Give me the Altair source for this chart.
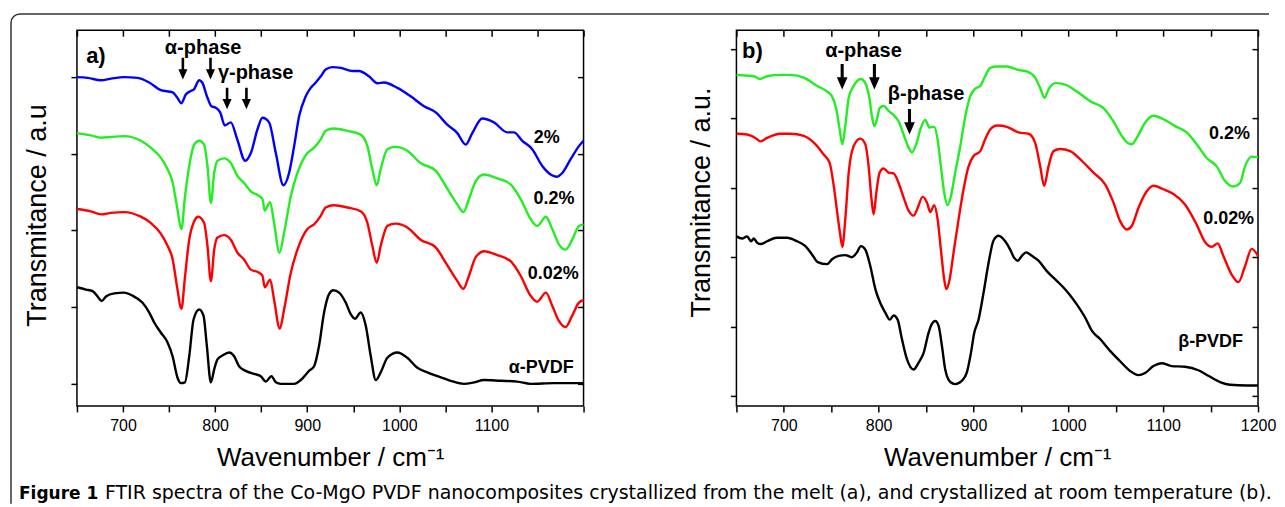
import altair as alt
import pandas as pd

# ---------------- data ----------------
# panel (a): crystallized from the melt  (wavenumber cm-1, transmittance a.u.)
a_2pct = [(650,4.00),(661.6,3.99),(676,3.96),(687,3.98),(701,4.00),(716,3.99),(728.5,3.93),(741,3.83),(754,3.80),(759,3.73),(763.5,3.66),(768,3.77),(773.7,3.82),(777,3.84),(782.7,3.96),(786,3.93),(791.7,3.73),(796,3.62),(800.8,3.60),(805.5,3.54),(810.5,3.37),(817,3.41),(824,3.19),(832.6,2.91),(838.8,3.01),(846,3.32),(851.4,3.47),(858.6,3.41),(865.9,3.01),(874.2,2.59),(880.3,2.75),(885.8,3.10),(891.2,3.49),(898.4,3.75),(903.8,3.86),(909.3,3.93),(914.7,4.01),(920,4.10),(927.4,4.13),(936.4,4.12),(949,4.08),(956.3,4.08),(967,4.01),(976.2,3.92),(983.4,3.93),(997.9,3.86),(1012.3,3.75),(1026.8,3.62),(1039.5,3.54),(1052,3.38),(1063,3.27),(1072,3.12),(1079.2,3.27),(1090,3.46),(1102.7,3.41),(1117.2,3.28),(1124.4,3.28),(1133.5,3.17),(1144.3,3.06),(1155.2,2.84),(1164.2,2.73),(1170.7,2.70),(1176.9,2.75),(1186,2.93),(1195,3.10),(1200,3.17)]
a_02pct = [(650,3.27),(665,3.24),(676,3.21),(687,3.22),(701,3.23),(719.4,3.17),(732,3.06),(741,2.95),(748.4,2.80),(754,2.62),(758.5,2.32),(763.5,2.02),(767,2.41),(771.9,2.84),(777.3,3.12),(782.7,3.17),(788,3.12),(791.7,2.84),(795.4,2.36),(799,2.75),(802.6,2.91),(809.8,2.94),(817,2.88),(824.3,2.71),(831.5,2.62),(838.7,2.51),(847.8,2.45),(851.4,2.41),(853.9,2.26),(859.7,2.37),(864,2.10),(869.9,1.71),(874.9,1.97),(882.2,2.45),(889.4,2.75),(900.2,3.01),(907.5,3.08),(914.7,3.19),(920,3.30),(929,3.33),(943.6,3.30),(958,3.25),(965.3,3.10),(970.7,2.80),(975.5,2.59),(979.8,2.80),(987,3.06),(996,3.09),(1008.7,3.04),(1023,2.88),(1039.5,2.78),(1050.3,2.58),(1063,2.34),(1069.5,2.24),(1075.6,2.41),(1082.8,2.64),(1091.9,2.73),(1106.3,2.68),(1120.8,2.60),(1131.7,2.41),(1142.5,2.15),(1149.7,2.06),(1159.1,2.18),(1166,2.02),(1173.2,1.82),(1180.5,1.75),(1187.7,1.88),(1195,2.06),(1200,2.08)]
a_002pct = [(650,2.28),(665,2.25),(676,2.21),(687,2.23),(701,2.24),(719.4,2.18),(730,2.10),(741,1.96),(748.4,1.80),(754,1.62),(758.5,1.28),(763.5,0.98),(767,1.36),(771.9,1.88),(777.3,2.12),(781.6,2.18),(788,2.10),(791.7,1.80),(795.4,1.34),(799,1.75),(802.6,1.91),(809.8,1.94),(817,1.88),(824.3,1.71),(831.5,1.62),(838.7,1.49),(847.8,1.45),(851.4,1.41),(853.9,1.26),(859.7,1.36),(864,1.10),(870.2,0.72),(874.9,0.97),(882.2,1.45),(889.4,1.75),(900.2,2.02),(907.5,2.08),(914.7,2.19),(920,2.30),(929,2.33),(943.6,2.30),(958,2.25),(965.3,2.10),(970.7,1.80),(975.5,1.58),(979.8,1.80),(987,2.06),(996,2.09),(1008.7,2.04),(1023,1.88),(1039.5,1.78),(1050.3,1.58),(1063,1.34),(1069.5,1.24),(1075.6,1.41),(1082.8,1.65),(1091.9,1.73),(1106.3,1.68),(1120.8,1.60),(1131.7,1.41),(1142.5,1.15),(1149.7,1.07),(1159.1,1.19),(1166,1.02),(1173.2,0.82),(1180.5,0.74),(1187.7,0.89),(1195,1.06),(1200,1.09)]
a_alpha = [(650,1.26),(659.8,1.23),(667,1.21),(672.4,1.14),(676.8,1.08),(681.5,1.14),(690.5,1.18),(701,1.19),(710.4,1.15),(721,1.06),(728.5,0.93),(733.9,0.80),(741,0.67),(748.4,0.54),(753.8,0.36),(759.2,0.08),(762.8,0.01),(767.2,0.02),(771.9,0.36),(776.6,0.84),(782.7,0.97),(787.4,0.89),(791,0.50),(795.4,0.02),(799,0.19),(802.6,0.32),(808,0.37),(815.3,0.41),(820.7,0.36),(826,0.23),(833.3,0.17),(842.4,0.13),(849.6,0.10),(855,0.03),(861.2,0.10),(865.9,0.02),(871.3,0.00),(885.8,0.00),(893,0.05),(902,0.17),(907.5,0.23),(912.9,0.50),(918.3,0.93),(923.7,1.17),(928.4,1.22),(934.6,1.19),(941.8,1.06),(947.2,0.91),(952,0.85),(958,0.93),(963.5,0.76),(969,0.36),(974.4,0.05),(979.8,0.15),(987,0.34),(997.9,0.41),(1008.7,0.34),(1019.6,0.21),(1030.4,0.15),(1041.3,0.10),(1055.7,0.04),(1070.2,0.00),(1081,0.02),(1091.9,0.05),(1110,0.04),(1128,0.03),(1142.5,0.00),(1167.8,0.01),(1200,0.01)]

# panel (b): crystallized at room temperature
b_02pct = [(650,4.63),(659.5,4.62),(668.3,4.61),(674.6,4.57),(682.3,4.61),(696.4,4.63),(707,4.63),(721,4.59),(735,4.47),(745.5,4.39),(750.8,4.32),(755.4,4.13),(758.9,3.84),(761.7,3.63),(764.8,3.89),(768.4,4.30),(773.6,4.47),(777.1,4.54),(781.3,4.57),(785.9,4.51),(790.5,4.27),(792.9,4.03),(795.4,3.89),(798.2,3.99),(801,4.15),(805.2,4.18),(810.5,4.11),(816.5,4.04),(821,3.96),(826.3,3.77),(831.6,3.58),(835.1,3.51),(839.6,3.63),(844.6,3.87),(849.1,3.98),(853.6,3.87),(858.6,3.88),(862.1,3.70),(865.6,3.31),(869.1,2.93),(872.7,2.75),(876.2,2.88),(880.7,3.22),(886,3.60),(891.3,4.03),(896.5,4.32),(901.8,4.43),(907.1,4.47),(912.3,4.61),(917.6,4.73),(924.6,4.75),(935.2,4.75),(947.5,4.70),(956.2,4.68),(965,4.59),(970.3,4.44),(974.9,4.30),(979.1,4.42),(986.1,4.51),(996.6,4.49),(1008.9,4.39),(1023,4.25),(1037,4.15),(1047.5,3.96),(1056.3,3.75),(1062.3,3.65),(1066.9,3.63),(1072.1,3.72),(1080.9,3.94),(1089.7,4.04),(1100.2,3.99),(1112.5,3.89),(1124.8,3.80),(1135.3,3.63),(1145.9,3.43),(1156.4,3.31),(1165.2,3.10),(1174,3.02),(1181,3.07),(1186.3,3.31),(1193.3,3.45),(1200,3.44)]
b_002pct = [(650,3.78),(661.2,3.77),(670,3.72),(675.3,3.67),(682.3,3.72),(696.4,3.78),(707,3.78),(721,3.75),(733.2,3.63),(742,3.48),(748.3,3.36),(752.6,3.03),(756.8,2.59),(759.6,2.31),(761.7,2.15),(764.8,2.55),(768.4,3.22),(773.6,3.60),(780.6,3.71),(785.9,3.63),(789.4,3.31),(792.5,2.83),(794.7,2.62),(797.5,2.93),(801,3.22),(805.2,3.28),(810.5,3.22),(815.8,3.21),(821,3.07),(826.3,2.86),(831.6,2.67),(836.8,2.60),(841.1,2.71),(846.3,2.87),(850.9,2.79),(854.4,2.65),(858.6,2.75),(862.1,2.55),(865.6,2.11),(869.1,1.68),(871.3,1.54),(874.8,1.68),(879,2.07),(884.3,2.55),(889.5,2.98),(894.8,3.31),(900,3.46),(907.1,3.53),(912.3,3.70),(917.6,3.84),(924.6,3.90),(935.2,3.88),(947.5,3.80),(958,3.78),(965,3.65),(970.3,3.31),(974.5,3.03),(979.1,3.31),(984.3,3.53),(991.4,3.56),(1001.9,3.53),(1014.2,3.39),(1026.5,3.22),(1038.8,3.05),(1047.5,2.79),(1054.6,2.52),(1061.6,2.40),(1066.9,2.45),(1073.9,2.71),(1082.7,2.95),(1089.7,3.03),(1100.2,2.98),(1110.8,2.91),(1123,2.76),(1135.3,2.47),(1144.1,2.22),(1151.2,2.15),(1157.5,2.20),(1163.4,2.02),(1172.2,1.75),(1179.3,1.64),(1186.3,1.87),(1193.3,2.12),(1200,2.02)]
b_beta = [(650,2.30),(656,2.27),(661.2,2.30),(665.5,2.23),(668.3,2.27),(671.8,2.21),(676,2.19),(682.3,2.23),(692.8,2.28),(703.4,2.28),(713.9,2.23),(722.7,2.16),(729.7,2.04),(735.7,1.93),(745.5,1.90),(750.8,1.97),(757.8,2.02),(764.8,2.03),(771.8,2.00),(777.1,2.07),(781.3,2.16),(785.9,2.11),(791.2,1.87),(796.5,1.54),(801.7,1.34),(807,1.20),(811.6,1.10),(815.8,1.16),(820,1.10),(824.5,0.82),(829.8,0.53),(836.8,0.38),(842.1,0.48),(847.4,0.62),(852.6,0.91),(856.1,1.04),(859.7,1.08),(863.2,1.01),(866.7,0.72),(870.2,0.38),(875.5,0.20),(880.7,0.17),(887.8,0.22),(893,0.34),(897.3,0.62),(900.8,0.91),(905.3,1.10),(910.6,1.49),(915.9,1.92),(921.1,2.24),(926.4,2.31),(933.4,2.23),(938.7,2.11),(942.9,1.99),(946.8,1.95),(951,2.02),(955.5,2.07),(961.5,2.02),(968.5,1.95),(977.3,1.80),(987.8,1.66),(998.4,1.51),(1008.9,1.32),(1017.7,1.13),(1024.7,0.94),(1033.5,0.82),(1044,0.65),(1054.6,0.50),(1065.1,0.36),(1073.9,0.30),(1080.9,0.33),(1089.7,0.43),(1098.5,0.47),(1109,0.43),(1123,0.42),(1137.1,0.37),(1147.6,0.29),(1159.9,0.20),(1170.5,0.16),(1188,0.15),(1200,0.15)]

series_a = ["2%", "0.2%", "0.02%", "α-PVDF"]
series_b = ["0.2% ", "0.02% ", "β-PVDF"]
colors_a = ["#0000ff", "#22ee22", "#ff0000", "#000000"]
colors_b = ["#22ee22", "#ff0000", "#000000"]

x_ticks = [650, 700, 750, 800, 850, 900, 950, 1000, 1050, 1100, 1150, 1200]
y_ticks_a = [0, 1, 2, 3, 4]
y_ticks_b = [0, 1, 2, 3, 4, 5]

# annotations (wavenumber, transmittance, text, font size, alignment)
ann_a = [(660, 4.27, "a)", 22, "left"), (787, 4.38, "α-phase", 20, "center"),
         (844, 4.06, "γ-phase", 20, "center"), (1160, 3.21, "2%", 18, "center"),
         (1168, 2.41, "0.2%", 18, "center"), (1167, 1.43, "0.02%", 18, "center"),
         (1154, 0.21, "α-PVDF", 18, "center")]
ann_b = [(656, 4.97, "b)", 22, "left"), (784, 4.97, "α-phase", 20, "center"),
         (850, 4.35, "β-phase", 20, "center"), (1170, 3.77, "0.2%", 18, "center"),
         (1169, 2.55, "0.02%", 18, "center"), (1150, 0.77, "β-PVDF", 18, "center")]
arrows_a = [(765, 3.97), (795, 3.97), (813, 3.58), (834, 3.58)]
arrows_b = [(761.5, 4.42), (795.5, 4.42), (832.5, 3.77)]

caption_bold = "Figure 1"
caption_rest = ("FTIR spectra of the Co-MgO PVDF nanocomposites crystallized from the melt (a), "
                "and crystallized at room temperature (b).")

FONT = "Liberation Sans"
CAP_FONT = "DejaVu Sans"
ARROW = "M -0.12 -2 L 0.12 -2 L 0.12 -0.95 L 0.42 -0.95 L 0 0 L -0.42 -0.95 L -0.12 -0.95 Z"


def lines_df(names, arrays):
    rows = []
    for name, arr in zip(names, arrays):
        for w, t in arr:
            rows.append({"wn": w, "t": t, "series": name})
    return pd.DataFrame(rows)


def panel(names, arrays, colors, ydom, yticks, ytitle, title_pad, title_y,
          last_label, ann, arrows, arrow_size, width, extra=None):
    xs = alt.Scale(domain=[650, 1200], nice=False, zero=False)
    ys = alt.Scale(domain=ydom, nice=False, zero=False)
    df = lines_df(names, arrays)
    lines = alt.Chart(df).mark_line(strokeWidth=2.4, interpolate="monotone").encode(
        x=alt.X("wn:Q", scale=xs, axis=alt.Axis(
            values=x_ticks, format="d", orient="bottom",
            labelExpr=f"(datum.value % 100 == 0 && datum.value > 650 && datum.value <= {last_label}) ? datum.label : ''",
            labelOverlap=False, labelFlush=False, tickSize=6, labelPadding=6,
            labelFontSize=16, title="Wavenumber / cm⁻¹", titleFontSize=26, titlePadding=11,
            domain=False, grid=False)),
        y=alt.Y("t:Q", scale=ys, axis=alt.Axis(
            values=yticks, labels=False, tickSize=6, orient="left", title=ytitle,
            titleFontSize=27, titlePadding=title_pad, titleY=title_y, domain=False, grid=False)),
        color=alt.Color("series:N", scale=alt.Scale(domain=names, range=colors), legend=None),
    )
    mirror = alt.Chart(pd.DataFrame({"wn": [650], "t": [0]})).mark_point(opacity=0).encode(
        x=alt.X("wn:Q", scale=xs, axis=alt.Axis(
            values=x_ticks, labels=False, orient="top", tickSize=6, offset=-6,
            domain=False, grid=False, title=None)),
        y=alt.Y("t:Q", scale=ys, axis=alt.Axis(
            values=yticks, labels=False, orient="right", tickSize=6, offset=-6,
            domain=False, grid=False, title=None)),
    )
    adf = pd.DataFrame(ann, columns=["wn", "t", "text", "fs", "al"])
    texts = []
    for al in ["left", "center"]:
        sub = adf[adf["al"] == al]
        texts.append(alt.Chart(sub).mark_text(font=FONT, fontWeight="bold", align=al,
                                              baseline="middle", color="black").encode(
            x=alt.X("wn:Q", scale=xs, axis=None),
            y=alt.Y("t:Q", scale=ys, axis=None),
            text="text:N",
            size=alt.Size("fs:Q", scale=None, legend=None),
        ))
    ar = alt.Chart(pd.DataFrame(arrows, columns=["wn", "t"])).mark_point(
        shape=ARROW, size=arrow_size, filled=True, color="black", opacity=1, strokeWidth=0
    ).encode(x=alt.X("wn:Q", scale=xs, axis=None), y=alt.Y("t:Q", scale=ys, axis=None))
    layers = [lines, mirror] + texts + [ar]
    if extra:
        layers += extra
    return alt.layer(*layers).resolve_axis(x="independent", y="independent").properties(
        width=width, height=376)


one = pd.DataFrame({"k": [0]})
# outer frame and caption, in pixels relative to panel (a)'s plot origin
frame = [
    alt.Chart(one).mark_rule(color="#333333", strokeWidth=1.5).encode(
        x=alt.value(-57), x2=alt.value(1193), y=alt.value(-16.3)),
    alt.Chart(one).mark_rule(color="#333333", strokeWidth=1.5).encode(
        x=alt.value(-66), y=alt.value(-7.3), y2=alt.value(474)),
    alt.Chart(one).mark_arc(innerRadius=8.25, outerRadius=9.75, theta=4.712389,
                            theta2=6.283185, color="#333333").encode(
        x=alt.value(-57), y=alt.value(-7.3)),
    alt.Chart(one).mark_text(text=caption_bold, font=CAP_FONT, fontWeight="bold",
                             fontSize=17, align="left", baseline="alphabetic",
                             color="black").encode(x=alt.value(-58), y=alt.value(469)),
    alt.Chart(one).mark_text(text=caption_rest, font=CAP_FONT, fontSize=19,
                             align="left", baseline="alphabetic",
                             color="black").encode(x=alt.value(28), y=alt.value(469)),
]

panel_a = panel(series_a, [a_2pct, a_02pct, a_002pct, a_alpha], colors_a,
                [-0.287, 4.612], y_ticks_a, "Transmitance / a.u", 19, 185, 1100,
                ann_a, arrows_a, 467, 507, extra=frame)
panel_b = panel(series_b, [b_02pct, b_002pct, b_beta], colors_b,
                [-0.144, 5.274], y_ticks_b, "Transmitance / a.u.", 14, 172, 1200,
                ann_b, arrows_b, 650, 522)

chart = alt.hconcat(panel_a, panel_b, spacing=153, bounds="flush").resolve_scale(
    color="independent"
).properties(
    padding={"left": 1, "top": 4, "right": 0, "bottom": 0}
).configure_view(stroke="black", strokeWidth=1.5).configure_axis(
    labelFont=FONT, titleFont=FONT, labelColor="black", titleColor="black",
    tickColor="black", tickWidth=1.5, titleFontWeight="normal"
)

chart.save("out.html", embed_options={"renderer": "svg", "actions": False})
